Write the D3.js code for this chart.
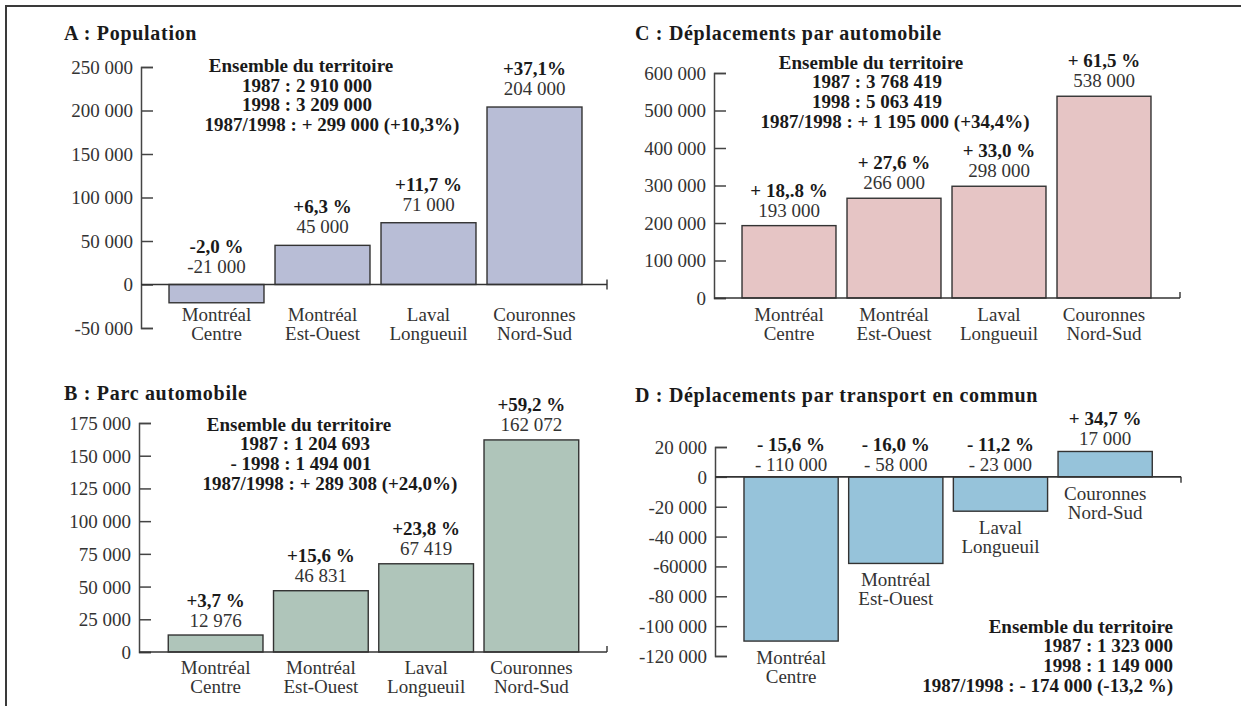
<!DOCTYPE html>
<html><head><meta charset="utf-8">
<script src="https://cdn.jsdelivr.net/npm/d3@7"></script>
<style>
body{margin:0;background:#fff}
svg{display:block}
text{font-family:"Liberation Serif","Times New Roman",serif}
</style>
</head><body>
<svg width="1241" height="706"></svg>
<script>
// ---------- DATA ----------
const categories = [["Montréal","Centre"],["Montréal","Est-Ouest"],["Laval","Longueuil"],["Couronnes","Nord-Sud"]];

const popValues = [-21000, 45000, 71000, 204000];
const popValueLabels = ["-21 000","45 000","71 000","204 000"];
const popPctLabels = ["-2,0 %","+6,3 %","+11,7 %","+37,1%"];
const popTicks = [-50000,0,50000,100000,150000,200000,250000];
const popTickLabels = ["-50 000","0","50 000","100 000","150 000","200 000","250 000"];
const popSummary = ["Ensemble du territoire","1987 : 2 910 000","1998 : 3 209 000","1987/1998 : + 299 000 (+10,3%)"];

const carValues = [12976, 46831, 67419, 162072];
const carValueLabels = ["12 976","46 831","67 419","162 072"];
const carPctLabels = ["+3,7 %","+15,6 %","+23,8 %","+59,2 %"];
const carTicks = [0,25000,50000,75000,100000,125000,150000,175000];
const carTickLabels = ["0","25 000","50 000","75 000","100 000","125 000","150 000","175 000"];
const carSummary = ["Ensemble du territoire","1987 : 1 204 693","- 1998 : 1 494 001","1987/1998 : + 289 308 (+24,0%)"];

const autoValues = [193000, 266000, 298000, 538000];
const autoValueLabels = ["193 000","266 000","298 000","538 000"];
const autoPctLabels = ["+ 18,.8 %","+ 27,6 %","+ 33,0 %","+ 61,5 %"];
const autoTicks = [0,100000,200000,300000,400000,500000,600000];
const autoTickLabels = ["0","100 000","200 000","300 000","400 000","500 000","600 000"];
const autoSummary = ["Ensemble du territoire","1987 : 3 768 419","1998 : 5 063 419","1987/1998 : + 1 195 000 (+34,4%)"];

const tcValues = [-110000, -58000, -23000, 17000];
const tcValueLabels = ["- 110 000","- 58 000","- 23 000","17 000"];
const tcPctLabels = ["- 15,6 %","- 16,0 %","- 11,2 %","+ 34,7 %"];
const tcTicks = [-120000,-100000,-80000,-60000,-40000,-20000,0,20000];
const tcTickLabels = ["-120 000","-100 000","-80 000","-60000","-40 000","-20 000","0","20 000"];
const tcSummary = ["Ensemble du territoire","1987 : 1 323 000","1998 : 1 149 000","1987/1998 : - 174 000 (-13,2 %)"];

// ---------- DRAW ----------
const svg = d3.select("svg");
svg.append("path").attr("d","M6,706 V6 H1241").attr("fill","none")
  .attr("stroke","#3a3a3a").attr("stroke-width",2);

const FS = 19;

function drawPanel(p){
  const g = svg.append("g");
  const y = d3.scaleLinear().domain(p.domain).range(p.yRange);
  const x = d3.scaleBand().domain(d3.range(categories.length))
    .range(p.xRange).paddingInner(p.pad).paddingOuter(p.pad/2);
  const bw = x.bandwidth();
  const y0 = y(0);

  // title
  g.append("text").attr("x",p.titleX).attr("y",p.titleY)
    .attr("font-size",20).attr("font-weight","bold").attr("letter-spacing",0.7)
    .attr("fill","#1a1a1a").text(p.title);

  // y axis
  const labelOf = new Map(p.ticks.map((t,i)=>[t,p.tickLabels[i]]));
  const ax = g.append("g").attr("transform",`translate(${p.axisX},0)`)
    .call(d3.axisLeft(y).tickValues(p.ticks).tickSize(-12).tickPadding(8)
      .tickFormat(d=>labelOf.get(d)));
  ax.attr("font-size",null).attr("font-family",null);
  ax.selectAll("path,line").attr("stroke","#444").attr("stroke-width",1.5);
  ax.selectAll("text").attr("font-size",FS).attr("fill","#333").attr("dy","0.34em");

  // bars
  g.selectAll("rect.bar").data(p.values).join("rect").attr("class","bar")
    .attr("x",(d,i)=>x(i)).attr("width",bw)
    .attr("y",d=>Math.min(y(d),y0)).attr("height",d=>Math.abs(y(d)-y0))
    .attr("fill",p.color).attr("stroke","#333").attr("stroke-width",1.4);

  // zero line
  g.append("line").attr("x1",p.axisX).attr("x2",p.xEnd).attr("y1",y0).attr("y2",y0)
    .attr("stroke","#333").attr("stroke-width",1.6);
  g.append("line").attr("x1",p.xEnd).attr("x2",p.xEnd)
    .attr("y1",y0+p.endTick[0]).attr("y2",y0+p.endTick[1])
    .attr("stroke","#333").attr("stroke-width",1.4);

  // value + pct labels
  p.values.forEach((v,i)=>{
    const cx = x(i)+bw/2;
    const top = Math.min(y(v),y0);
    g.append("text").attr("x",cx).attr("y",top-p.valOff).attr("text-anchor","middle")
      .attr("font-size",FS).attr("fill","#333").text(p.valueLabels[i]);
    g.append("text").attr("x",cx).attr("y",top-p.valOff-20).attr("text-anchor","middle")
      .attr("font-size",FS).attr("font-weight","bold").attr("fill","#1a1a1a").text(p.pctLabels[i]);
    const base = p.catY != null ? p.catY : Math.max(y(v),y0)+p.catOff;
    categories[i].forEach((line,k)=>{
      g.append("text").attr("x",cx).attr("y",base+k*19).attr("text-anchor","middle")
        .attr("font-size",FS).attr("fill","#333").text(line);
    });
  });

  // summary
  p.summary.forEach((line,k)=>{
    g.append("text").attr("x",p.sumX[k]).attr("y",p.sumY+k*19.7)
      .attr("text-anchor",p.sumAnchor).attr("font-size",FS).attr("font-weight","bold")
      .attr("fill","#1a1a1a").text(line);
  });
}

drawPanel({title:"A : Population", titleX:64, titleY:40,
  values:popValues, valueLabels:popValueLabels, pctLabels:popPctLabels,
  ticks:popTicks, tickLabels:popTickLabels, summary:popSummary,
  domain:[-50000,250000], yRange:[328,67], xRange:[163.5,587.5], pad:0.104,
  axisX:141, xEnd:607, endTick:[-5,5], color:"#b8bdd6",
  valOff:12, catY:321, sumX:[301,307,307,332], sumY:72, sumAnchor:"middle"});

drawPanel({title:"B : Parc automobile", titleX:64, titleY:400,
  values:carValues, valueLabels:carValueLabels, pctLabels:carPctLabels,
  ticks:carTicks, tickLabels:carTickLabels, summary:carSummary,
  domain:[0,175000], yRange:[652,423], xRange:[163,584], pad:0.1,
  axisX:139, xEnd:607, endTick:[-6,0], color:"#afc5ba",
  valOff:8.5, catY:674, sumX:[299,305,301,330], sumY:430.5, sumAnchor:"middle"});

drawPanel({title:"C : Déplacements par automobile", titleX:635, titleY:40,
  values:autoValues, valueLabels:autoValueLabels, pctLabels:autoPctLabels,
  ticks:autoTicks, tickLabels:autoTickLabels, summary:autoSummary,
  domain:[0,600000], yRange:[298,73], xRange:[736.5,1156.5], pad:0.105,
  axisX:714, xEnd:1180, endTick:[-6,0], color:"#e6c5c5",
  valOff:9, catY:321, sumX:[871,877,877,895], sumY:68.5, sumAnchor:"middle"});

drawPanel({title:"D : Déplacements par transport en commun", titleX:635, titleY:401.5,
  values:tcValues, valueLabels:tcValueLabels, pctLabels:tcPctLabels,
  ticks:tcTicks, tickLabels:tcTickLabels, summary:tcSummary,
  domain:[-120000,20000], yRange:[656,447], xRange:[738.75,1157.5], pad:0.1,
  axisX:715, xEnd:1181, endTick:[0,6], color:"#96c3da",
  valOff:6, catOff:23, sumX:[1173,1173,1173,1173], sumY:632.5, sumAnchor:"end"});
</script>
</body></html>
